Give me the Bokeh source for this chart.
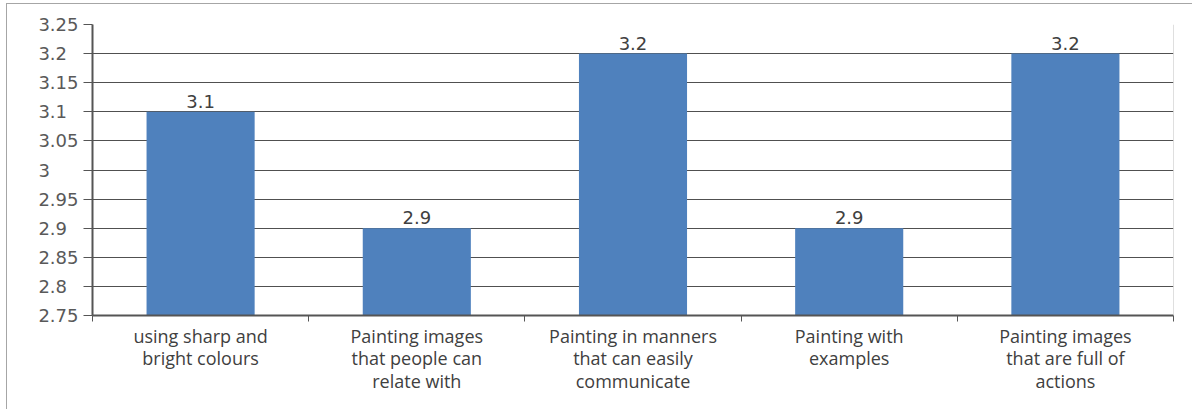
from bokeh.plotting import figure
from bokeh.models import Range1d, FixedTicker, ColumnDataSource, LabelSet, Span
from bokeh.core.properties import value
from bokeh.embed import file_html
from bokeh.resources import INLINE

categories = ["using sharp and\nbright colours",
              "Painting images\nthat people can\nrelate with",
              "Painting in manners\nthat can easily\ncommunicate",
              "Painting with\nexamples",
              "Painting images\nthat are full of\nactions"]
values = [3.1, 2.9, 3.2, 2.9, 3.2]
value_labels = ["3.1", "2.9", "3.2", "2.9", "3.2"]
y_ticks = [2.75, 2.8, 2.85, 2.9, 2.95, 3.0, 3.05, 3.1, 3.15, 3.2, 3.25]
y_tick_labels = ["2.75", "2.8", "2.85", "2.9", "2.95", "3", "3.05", "3.1", "3.15", "3.2", "3.25"]

xs = [i + 0.5 for i in range(len(categories))]

p = figure(width=1186, height=406, output_backend="svg", toolbar_location=None,
           x_range=Range1d(0, len(categories)), y_range=Range1d(2.75, 3.25),
           min_border_left=85, min_border_right=20, min_border_top=20, min_border_bottom=95)
p.styles = {"margin-left": "6px", "margin-top": "3px",
            "border-top": "1px solid #a6a6a6", "border-left": "1px solid #a6a6a6"}
p.outline_line_color = None
p.background_fill_color = "white"
p.border_fill_color = "white"

src = ColumnDataSource(dict(x=xs, top=values, lab=value_labels))
p.vbar(x="x", top="top", bottom=2.75, width=0.5, source=src,
       fill_color="#4F81BD", line_color=None)

p.add_layout(LabelSet(x="x", y="top", text="lab", source=src, text_align="center",
                      text_baseline="bottom", y_offset=4, text_font=value("DejaVu Sans"),
                      text_font_size=value("18px"), text_color=value("#404040")))

# x axis
p.xaxis.ticker = FixedTicker(ticks=xs, minor_ticks=list(range(len(categories) + 1)))
p.xaxis.major_label_overrides = {x: c for x, c in zip(xs, categories)}
p.xaxis.major_tick_out = 0
p.xaxis.major_tick_in = 0
p.xaxis.minor_tick_out = 6
p.xaxis.minor_tick_in = 0
p.xaxis.minor_tick_line_color = "#555555"
p.xaxis.axis_line_color = "#555555"
p.xaxis.axis_line_width = 2
p.xaxis.major_label_text_font = "Open Sans"
p.xaxis.major_label_text_font_size = "18px"
p.xaxis.major_label_text_color = "#404040"
p.xaxis.major_label_text_line_height = 0.95
p.xaxis.major_label_standoff = 2

# y axis
fs = "\u2007"
overrides = {}
for t, l in zip(y_ticks, y_tick_labels):
    if "." not in l:
        extra = "\u2008" + fs * (3 - len(l))
    else:
        extra = fs * (3 - len(l.replace(".", "")))
    overrides[t] = l + extra
p.yaxis.ticker = FixedTicker(ticks=y_ticks)
p.yaxis.major_label_overrides = overrides
p.yaxis.minor_tick_line_color = None
p.yaxis.major_tick_out = 9
p.yaxis.major_tick_in = 0
p.yaxis.major_tick_line_color = "#555555"
p.yaxis.axis_line_color = "#555555"
p.yaxis.axis_line_width = 2
p.yaxis.major_label_text_font = "DejaVu Sans"
p.yaxis.major_label_text_font_size = "18px"
p.yaxis.major_label_text_color = "#595959"
p.yaxis.major_label_standoff = 5

p.xgrid.grid_line_color = None
p.ygrid.ticker = FixedTicker(ticks=y_ticks)
p.ygrid.grid_line_color = "#505050"
p.ygrid.grid_line_width = 1

p.add_layout(Span(location=len(categories), dimension="height", line_color="#bfbfbf", line_width=1))

open("out.html", "w").write(file_html(p, INLINE))
